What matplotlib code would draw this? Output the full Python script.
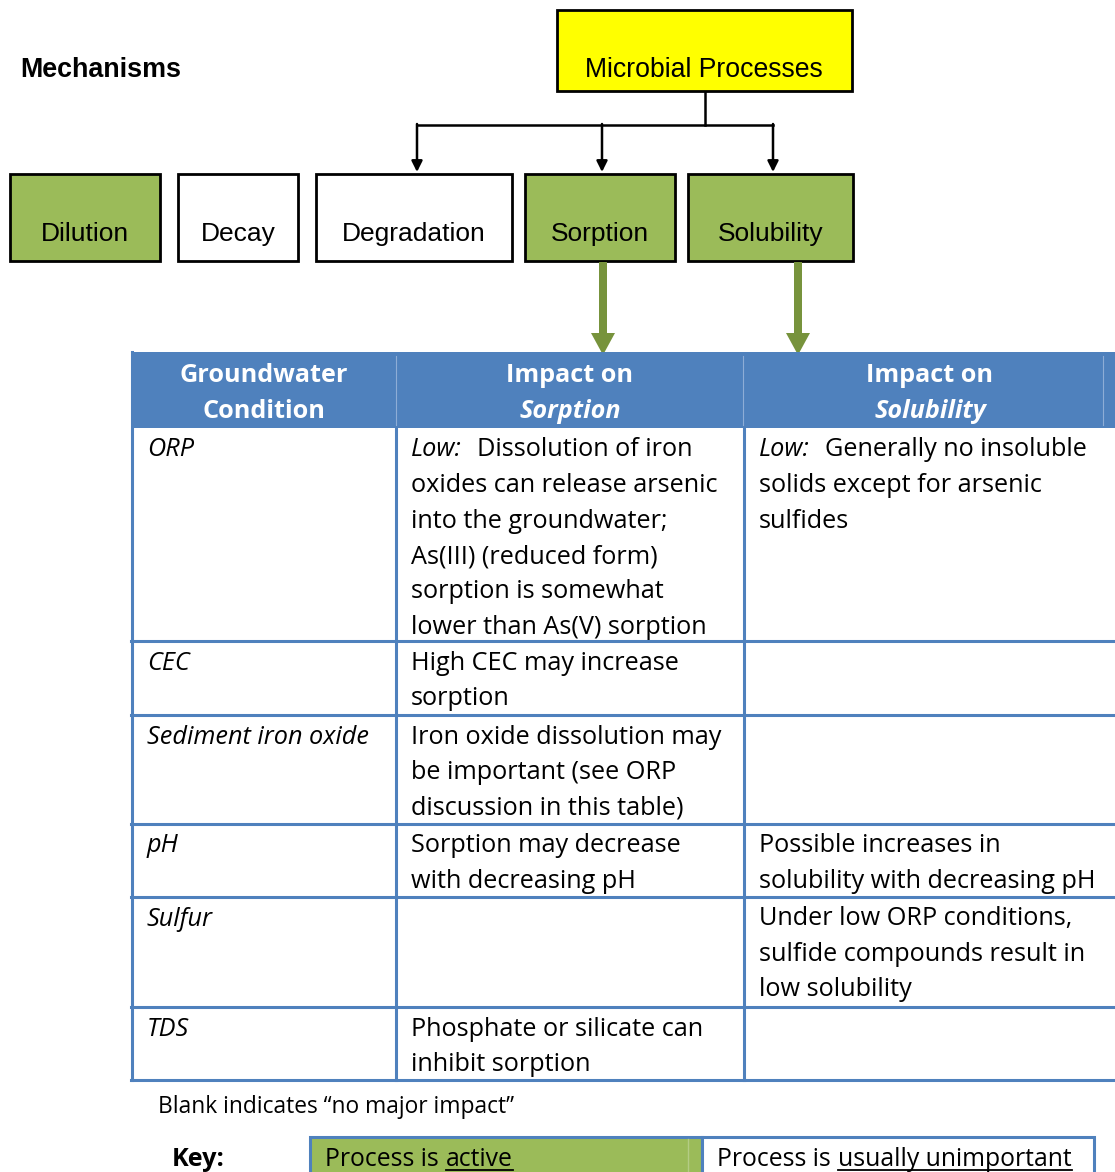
import matplotlib
matplotlib.use("Agg")
import matplotlib.pyplot as plt
from matplotlib.patches import Rectangle

# ---- content ----
top_process = "Microbial Processes"
mechanisms = ["Dilution", "Decay", "Degradation", "Sorption", "Solubility"]
mechanism_active = [True, False, False, True, True]
fed_by_microbial = ["Degradation", "Sorption", "Solubility"]

header_cols = [("Groundwater", "Condition"), ("Impact on", "Sorption"), ("Impact on", "Solubility")]
conditions = ["ORP", "CEC", "Sediment iron oxide", "pH", "Sulfur", "TDS"]
sorption_impact = [
    ("Low:", ["Dissolution of iron", "oxides can release arsenic", "into the groundwater;",
              "As(III) (reduced form)", "sorption is somewhat", "lower than As(V) sorption"]),
    (None, ["High CEC may increase", "sorption"]),
    (None, ["Iron oxide dissolution may", "be important (see ORP", "discussion in this table)"]),
    (None, ["Sorption may decrease", "with decreasing pH"]),
    (None, []),
    (None, ["Phosphate or silicate can", "inhibit sorption"]),
]
solubility_impact = [
    ("Low:", ["Generally no insoluble", "solids except for arsenic", "sulfides"]),
    (None, []),
    (None, []),
    (None, ["Possible increases in", "solubility with decreasing pH"]),
    (None, ["Under low ORP conditions,", "sulfide compounds result in", "low solubility"]),
    (None, []),
]
footnote = "Blank indicates \u201cno major impact\u201d"
key_items = [("Process is", "active"), ("Process is", "usually unimportant")]

# ---- layout / style ----
GREEN = "#9BBB59"
DARK_GREEN = "#77933C"
BLUE = "#4F81BD"
BOX_FONT = "Liberation Sans"
TAB_FONT = "Open Sans"
FS = 18.2

box_x = [(10, 160), (178, 298), (316, 512), (525, 675), (688, 853)]
box_y = (174, 261)
col_x = [132, 396, 744, 1115]
row_y = [352, 428, 641, 715, 824, 897, 1007, 1080]
line_h = 35.5

fig = plt.figure(figsize=(11.15, 11.72), dpi=100)
ax = fig.add_axes([0, 0, 1, 1])
ax.set_xlim(0, 1115)
ax.set_ylim(1172, 0)
ax.axis("off")
renderer = fig.canvas.get_renderer()
inv = ax.transData.inverted()


def x_extent(t):
    bb = t.get_window_extent(renderer=renderer)
    (x0, _), (x1, _) = inv.transform([(bb.x0, bb.y0), (bb.x1, bb.y1)])
    return x0, x1


# top part
ax.text(20, 70, "Mechanisms", fontsize=19.4, fontweight="bold", family=BOX_FONT,
        ha="left", va="center")
ax.add_patch(Rectangle((557, 10), 295, 81, facecolor="#FFFF00", edgecolor="black", lw=2))
ax.text(704, 70, top_process, fontsize=19.2, family=BOX_FONT, ha="center", va="center")

for name, active, (x0, x1) in zip(mechanisms, mechanism_active, box_x):
    ax.add_patch(Rectangle((x0, box_y[0]), x1 - x0, box_y[1] - box_y[0],
                           facecolor=GREEN if active else "white", edgecolor="black", lw=2))
    ax.text((x0 + x1) / 2, 234, name, fontsize=19, family=BOX_FONT, ha="center", va="center")

arrow_x = [417, 602, 773]
ax.plot([705, 705], [92, 125], color="black", lw=1.8)
ax.plot([arrow_x[0], arrow_x[-1]], [125, 125], color="black", lw=1.8)
for xa in arrow_x:
    ax.annotate("", xy=(xa, 172), xytext=(xa, 124),
                arrowprops=dict(arrowstyle="-|>", color="black", lw=1.8, mutation_scale=16,
                                shrinkA=0, shrinkB=0))

for xa in [603, 798]:
    ax.arrow(xa, 262, 0, 93, width=8, head_width=24, head_length=22,
             length_includes_head=True, color=DARK_GREEN, lw=0)

# table header
ax.add_patch(Rectangle((col_x[0], row_y[0]), col_x[-1] - col_x[0], row_y[1] - row_y[0],
                       facecolor=BLUE, edgecolor="none"))
for xs in [396, 743, 1103]:
    ax.plot([xs, xs], [356, 425], color="#8EADD6", lw=0.8)
for (a, b), x0, x1 in zip(header_cols, col_x[:-1], col_x[1:]):
    cx = (x0 + x1) / 2 if x1 < 1100 else 930
    ax.text(cx, 376, a, fontsize=FS, fontweight="bold", color="white", family=TAB_FONT,
            ha="center", va="center")
    ax.text(cx, 411, b, fontsize=FS, fontweight="bold", color="white", family=TAB_FONT,
            style="normal" if a == "Groundwater" else "italic", ha="center", va="center")

# table body
for r, (cond, sorp, solu) in enumerate(zip(conditions, sorption_impact, solubility_impact)):
    y0 = row_y[r + 1] + 22
    ax.text(147, y0, cond, fontsize=FS, style="italic", family=TAB_FONT, ha="left", va="center")
    for (prefix, lines), xl in [(sorp, 411), (solu, 759)]:
        for i, ln in enumerate(lines):
            x = xl
            if i == 0 and prefix:
                t = ax.text(x, y0, prefix, fontsize=FS, style="italic", family=TAB_FONT,
                            ha="left", va="center")
                x = x_extent(t)[1] + 15
            ax.text(x, y0 + i * line_h, ln, fontsize=FS, family=TAB_FONT, ha="left", va="center")

for yl in row_y[2:]:
    ax.plot([col_x[0] - 1, 1115], [yl, yl], color=BLUE, lw=2.2)
for xl in col_x[:3]:
    ax.plot([xl, xl], [row_y[1] if xl > 140 else row_y[0], row_y[-1]], color=BLUE, lw=2.2)

ax.text(158, 1107, footnote, fontsize=16.4, family=TAB_FONT, ha="left", va="center")

# key
ax.text(172, 1159, "Key:", fontsize=18.2, fontweight="bold", family=TAB_FONT, ha="left", va="center")
key_cells = [(310, 702, GREEN), (702, 1094, "white")]
for (x0, x1, fc), (pre, und) in zip(key_cells, key_items):
    ax.add_patch(Rectangle((x0, 1137), x1 - x0, 45, facecolor=fc, edgecolor=BLUE, lw=2.2,
                           clip_on=True))
    t = ax.text(x0 + 15, 1159, pre, fontsize=17.8, family=TAB_FONT, ha="left", va="center")
    xs = x_extent(t)[1] + 7
    t2 = ax.text(xs, 1159, und, fontsize=17.8, family=TAB_FONT, ha="left", va="center")
    ux0, ux1 = x_extent(t2)
    ax.plot([ux0, ux1], [1170, 1170], color="black", lw=1.3)
ax.plot([688, 688], [1139, 1172], color="#B4CC84", lw=1)

fig.savefig("out.png", dpi=100)
